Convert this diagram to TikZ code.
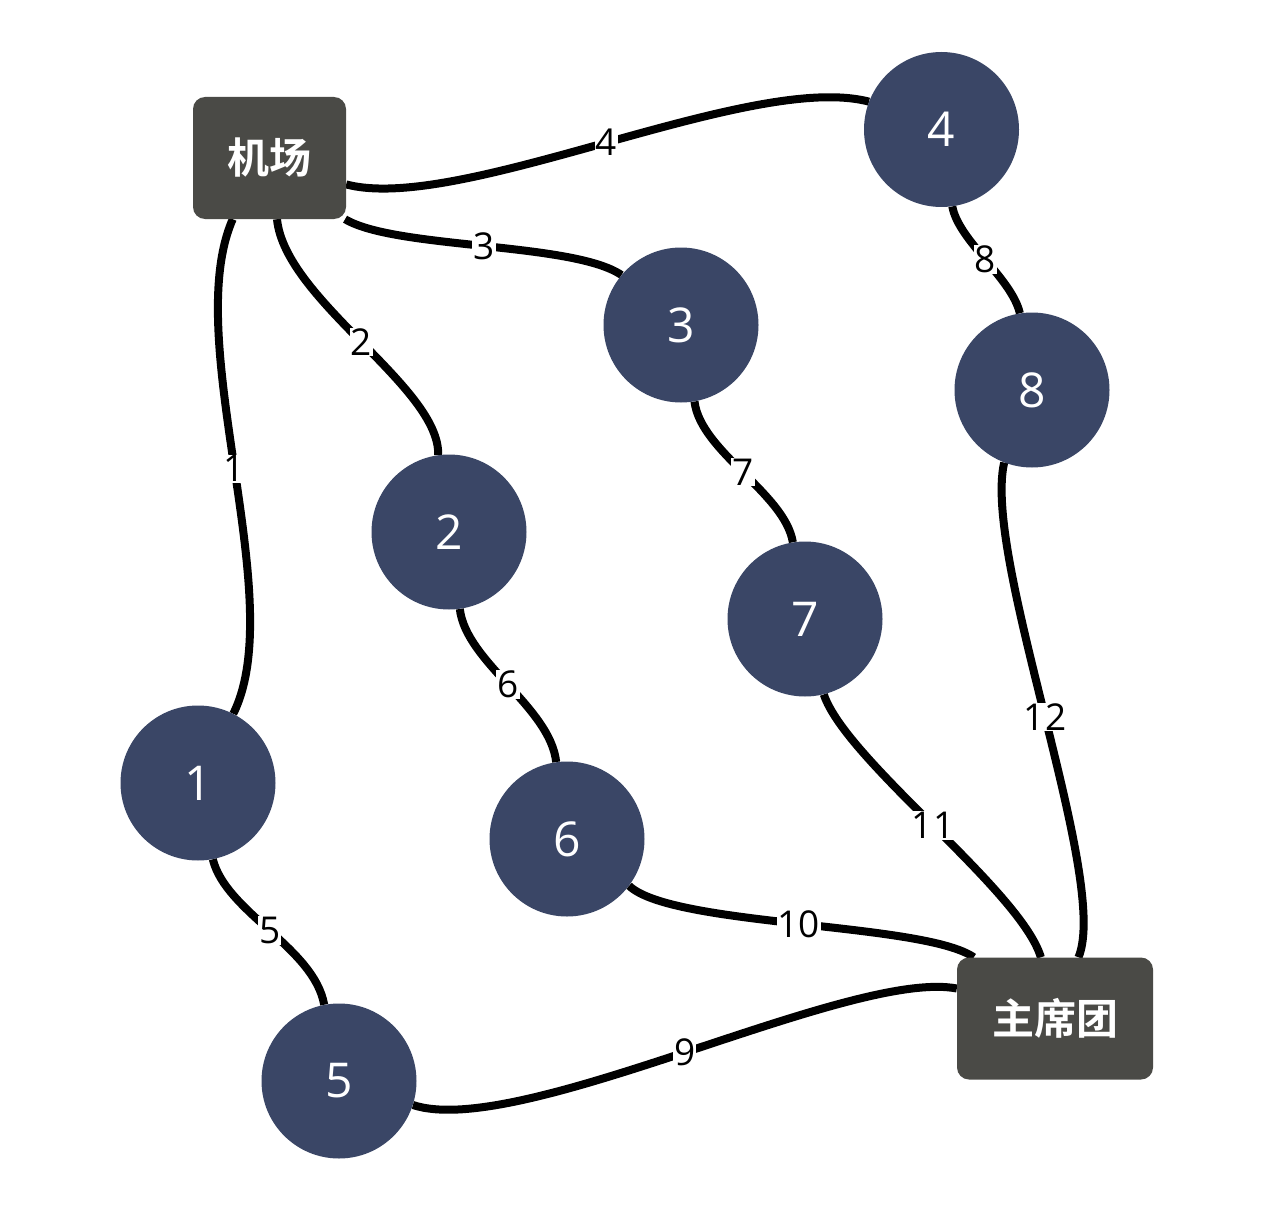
\documentclass[tikz,border=0pt]{standalone}
\usepackage{fontspec}
\usetikzlibrary{backgrounds}
\setmainfont{Open Sans}
\newfontfamily\cjk{Noto Sans CJK SC}[BoldFont={Noto Sans CJK SC Bold}]
\definecolor{boxgray}{HTML}{4A4A46}
\definecolor{circblue}{HTML}{3A4666}
\begin{document}
\begin{tikzpicture}[x=1pt,y=-1pt,
  hub/.style={rectangle,rounded corners=12pt,fill=boxgray,minimum width=153pt,minimum height=122pt,inner sep=0pt,text=white,font=\cjk\bfseries\fontsize{42}{44}\selectfont},
  spot/.style={circle,fill=circblue,minimum size=155pt,inner sep=0pt,text=white,font=\fontsize{48}{50}\selectfont},
  link/.style={line width=8pt,black},
  lab/.style={fill=white,inner sep=1pt,text=black,font=\fontsize{37}{39}\selectfont}]
\useasboundingbox (0,0) rectangle (1278,1220);
\node[hub] (jc) at (269.5,158) {机场};
\node[hub,minimum width=196pt] (zx) at (1055,1018.5) {主席团};
\node[spot] (c4) at (941.5,129.5) {4};
\node[spot] (c3) at (681,325) {3};
\node[spot] (c8) at (1032,390) {8};
\node[spot] (c2) at (449,532) {2};
\node[spot] (c7) at (805,619) {7};
\node[spot] (c1) at (198,783) {1};
\node[spot] (c6) at (567,839) {6};
\node[spot] (c5) at (339,1081) {5};
\begin{scope}[on background layer]
\fill[white] (0,0) rectangle (1278,1220);
\draw[link] (jc.-121) .. controls +(-53,121) and +(57,-115) .. node[lab]{1} (c1.63);
\draw[link] (jc.-83) .. controls +(8,81) and +(2,-68) .. node[lab]{2} (c2.98);
\draw[link] (jc.-39) .. controls +(50,30) and +(-48,-33) .. node[lab]{3} (c3.140);
\draw[link] (jc.-19) .. controls +(114,30) and +(-118,-31) .. node[lab]{4} (c4.159);
\draw[link] (c1.-79) .. controls +(13,53) and +(-10,-57) .. node[lab]{5} (c5.101);
\draw[link] (c2.-82) .. controls +(6,53) and +(-6,-55) .. node[lab]{6} (c6.98);
\draw[link] (c3.-80) .. controls +(6,50) and +(-8,-49) .. node[lab]{7} (c7.99);
\draw[link] (c4.-82) .. controls +(6,34) and +(-8,-35) .. node[lab]{8} (c8.99);
\draw[link] (c5.-18) .. controls +(107,35) and +(-107,-20) .. node[lab]{9} (zx.163.7);
\draw[link] (c6.-37) .. controls +(43,41) and +(-50,-35) .. node[lab]{10} (zx.143);
\draw[link] (c7.-76.5) .. controls +(22,66) and +(-20,-67) .. node[lab]{11} (zx.103);
\draw[link] (c8.-111) .. controls +(-22,96) and +(32,-77) .. node[lab]{12} (zx.69);
\end{scope}
\end{tikzpicture}
\end{document}
